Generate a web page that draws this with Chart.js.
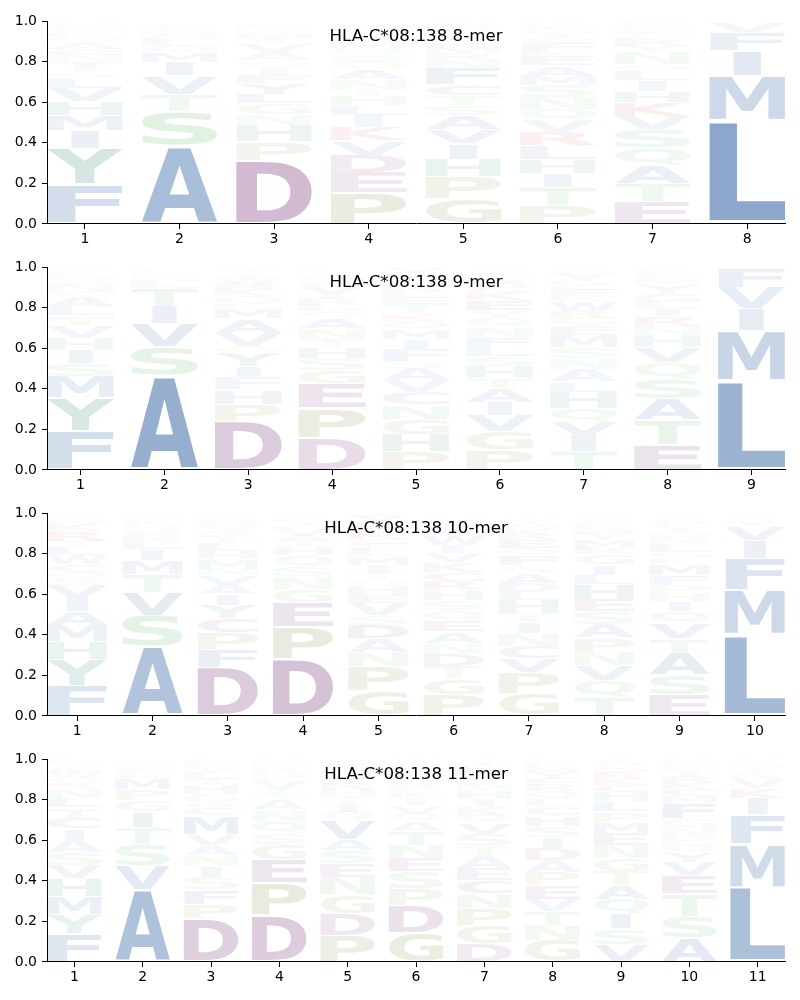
<!doctype html>
<html>

<head>
    <title>HLA-C*08:138</title>
    <script src="https://cdn.jsdelivr.net/npm/chart.js"></script>
    <style>
        body { margin: 0; background: #fff; }
        canvas { position: absolute; left: 0; }
    </style>
</head>

<body>
    <canvas id="logo8" width="800" height="246" style="top: 0px"></canvas>
    <canvas id="logo9" width="800" height="246" style="top: 246px"></canvas>
    <canvas id="logo10" width="800" height="246" style="top: 492px"></canvas>
    <canvas id="logo11" width="800" height="246" style="top: 738px"></canvas>

    <script>
        // each string is one position, bottom letter first, heights in the same order
        var letters8 = ["FYIMHVLSTNCAQRWKPGDE", "ASTVIMQLNGCFYHPR", "DPHNGLYFIQAVTMSKREW", "PEDVKILHTNAGSQMCRFYW",
            "GPHIVASTCFNRMKYLQEDW", "PTIHLRVQNSMAEKFCYGWD", "ETAQSVKHILGNYRMFCPDW", "LMIFV"];
        var heights8 = [
            [.195, .175, .09, .075, .07, .065, .05, .03, .05, .03, .03, .035, .025, .02, .01, .015, .015, .015, .005, .005],
            [.385, .17, .085, .09, .065, .05, .03, .03, .025, .02, .015, .015, .005, .005, .004, .003],
            [.315, .09, .08, .055, .055, .045, .055, .04, .035, .035, .04, .04, .03, .025, .02, .01, .01, .005, .005],
            [.155, .10, .085, .07, .065, .06, .05, .045, .035, .05, .05, .035, .03, .03, .03, .02, .02, .02, .015, .01],
            [.125, .11, .085, .075, .07, .07, .05, .05, .05, .08, .04, .03, .03, .025, .025, .02, .02, .015, .01, .01],
            [.09, .09, .07, .07, .065, .065, .06, .055, .06, .06, .045, .05, .045, .025, .04, .025, .025, .02, .015, .01],
            [.11, .09, .09, .085, .09, .065, .07, .055, .055, .045, .03, .06, .03, .03, .02, .02, .015, .015, .01, .01],
            [.51, .22, .125, .09, .05]
        ];

        var letters9 = ["FYMSIHVTLACNQRKGPE", "ASVITLGNCQM", "DPHFIYGVAMLQKRWSTNE", "DPEGSHTNAQLRIVFMKYCW",
            "PHGNCVASFIMQKTELRDWY", "PGVIATHSLFNQYEKCRMDW", "TIVQHLANSMEGRWKFCDYP", "ETASQVHNRILGYMCFKPD", "LMIVF"];
        var heights9 = [
            [.19, .165, .105, .065, .065, .06, .06, .05, .045, .05, .025, .04, .03, .015, .015, .01, .01, .005],
            [.465, .14, .115, .085, .09, .03, .03, .015, .01, .01, .005],
            [.24, .085, .07, .06, .055, .07, .03, .065, .07, .05, .02, .04, .03, .03, .03, .02, .02, .015, .005],
            [.16, .145, .12, .065, .06, .055, .045, .05, .05, .03, .03, .03, .025, .04, .02, .02, .015, .015, .01, .005],
            [.09, .085, .075, .07, .06, .06, .06, .035, .06, .05, .045, .045, .035, .045, .03, .03, .03, .025, .03, .03],
            [.10, .09, .08, .065, .065, .05, .06, .05, .045, .05, .05, .045, .035, .05, .04, .03, .035, .02, .015, .01],
            [.09, .08, .07, .065, .08, .05, .06, .055, .055, .06, .045, .04, .03, .05, .025, .03, .025, .02, .03, .02],
            [.125, .125, .10, .10, .08, .075, .06, .045, .045, .04, .03, .045, .04, .025, .02, .015, .01, .01, .005],
            [.44, .245, .11, .105, .095]
        ];

        var letters10 = ["FYHMAIVSQCWLTRKNPGED", "ASVTMILEGNKQFCY", "DFPCYIAVNMHLTSQGKWR", "DPEGNSQHTAVLIKRYMF",
            "GPNADSVEHQTIMLFCKRYW", "PGTDNAEQSHRCKVIWLFYM", "GPVCNITHLDASFQERKMYW", "TQVNPASEHLIGRMYDKFWC",
            "ESATVQIHPFMKGLNDYCRW", "LMFIVYTSN"];
        var heights10 = [
            [.15, .13, .085, .08, .07, .065, .065, .035, .03, .035, .045, .04, .03, .05, .03, .025, .015, .01, .005, .005],
            [.34, .155, .115, .09, .065, .055, .04, .03, .025, .025, .02, .015, .01, .005, .005],
            [.24, .09, .08, .07, .065, .055, .045, .05, .03, .045, .04, .04, .035, .03, .03, .02, .015, .015, .01],
            [.28, .16, .12, .065, .06, .05, .055, .04, .025, .03, .03, .02, .02, .015, .01, .01, .005, .005],
            [.125, .12, .07, .065, .065, .05, .06, .04, .045, .035, .03, .04, .04, .03, .03, .025, .04, .04, .03, .02],
            [.105, .08, .06, .06, .055, .055, .055, .05, .05, .05, .045, .045, .045, .045, .04, .05, .025, .02, .02, .015],
            [.11, .105, .07, .06, .06, .055, .045, .065, .04, .045, .05, .035, .05, .035, .04, .03, .025, .025, .015, .01],
            [.09, .085, .075, .065, .07, .065, .065, .06, .075, .045, .05, .05, .03, .04, .03, .025, .02, .015, .01, .01],
            [.105, .10, .105, .07, .075, .06, .05, .04, .04, .05, .055, .025, .03, .04, .035, .025, .025, .02, .015, .01],
            [.40, .22, .155, .09, .07, .025, .015, .01, .005]
        ];

        var letters11 = ["FYMHVSAICTLNRQWKGPED", "AVSTIGPMLCNQFE", "DPFSINAVMCQGHTLYKERW", "DPEGSQNATIVLHRKFMYC",
            "PDGNESAVQITHRKLMFYCW", "GDPSENTAQVIKLRHFMYCW", "DGPNCEATSVQKIHMLFRWY", "GNTVEPADISHCLQRFYMKW",
            "VSIQATGNEMPLHCKRDFWY", "ASTEVYQPNGFMCKRILDWH", "LMFIKVRYTNQS"];
        var heights11 = [
            [.14, .095, .09, .085, .065, .065, .06, .055, .055, .05, .045, .05, .025, .025, .03, .02, .015, .015, .01, .005],
            [.355, .12, .105, .085, .075, .055, .055, .055, .03, .02, .02, .015, .005, .005],
            [.215, .07, .07, .06, .055, .055, .05, .055, .09, .035, .03, .04, .045, .03, .03, .025, .015, .01, .01, .005],
            [.23, .16, .115, .075, .055, .06, .055, .045, .03, .025, .04, .02, .02, .02, .015, .01, .01, .01, .005],
            [.13, .105, .095, .085, .07, .065, .055, .095, .04, .04, .035, .03, .03, .025, .025, .02, .015, .015, .01, .005],
            [.145, .135, .08, .085, .065, .065, .07, .045, .04, .04, .035, .025, .025, .025, .025, .025, .02, .02, .015, .01],
            [.09, .09, .085, .07, .065, .06, .06, .05, .06, .055, .04, .04, .035, .04, .025, .03, .025, .03, .02, .015],
            [.105, .075, .07, .06, .07, .06, .06, .06, .055, .055, .05, .045, .035, .04, .03, .03, .03, .025, .02, .01],
            [.085, .08, .075, .07, .07, .065, .065, .065, .06, .055, .05, .05, .045, .035, .03, .03, .025, .02, .015, .01],
            [.12, .105, .11, .09, .065, .05, .04, .04, .045, .04, .075, .035, .035, .03, .03, .025, .025, .015, .015, .01],
            [.37, .21, .145, .08, .05, .045, .02, .02, .02, .015, .01, .01]
        ];

        var titles = ["HLA-C*08:138 8-mer", "HLA-C*08:138 9-mer", "HLA-C*08:138 10-mer", "HLA-C*08:138 11-mer"];
        var yTicks = [0, 0.2, 0.4, 0.6, 0.8, 1];

        var blue = 'rgb(29,83,153)', purple = 'rgb(107,36,110)', olive = 'rgb(127,133,50)',
            green = 'rgb(77,177,88)', teal = 'rgb(20,114,96)', red = 'rgb(190,20,20)';
        var letterColors = {
            A: blue, V: blue, I: blue, L: blue, M: blue, F: blue, W: blue,
            D: purple, E: purple, C: purple,
            P: olive, G: olive,
            S: green, T: green, N: green, Q: green,
            H: teal, Y: teal,
            K: red, R: red
        };

        // bars stay invisible, each letter gets stretched into its bar rectangle
        var glyphPlugin = {
            id: 'glyphs',
            afterDatasetsDraw(chart) {
                var ctx = chart.ctx;
                var area = chart.chartArea;
                ctx.save();
                ctx.beginPath();
                ctx.rect(area.left, area.top, area.width, area.height);
                ctx.clip();
                ctx.font = 'bold 200px "DejaVu Sans"';
                ctx.textAlign = 'left';
                ctx.textBaseline = 'alphabetic';
                var e = ctx.measureText('E');
                var eWidth = e.actualBoundingBoxLeft + e.actualBoundingBoxRight;
                chart.data.datasets.forEach((dataset, d) => {
                    chart.getDatasetMeta(d).data.forEach((bar, i) => {
                        var p = bar.getProps(['x', 'y', 'base', 'width'], true);
                        var letter = dataset.glyphs[i];
                        var m = ctx.measureText(letter);
                        var glyphWidth = m.actualBoundingBoxLeft + m.actualBoundingBoxRight;
                        // narrow letters (the I) are not stretched more than an E
                        var sx = p.width / Math.max(glyphWidth, eWidth);
                        var full = p.base - p.y;
                        var pad = full * 0.03;
                        ctx.save();
                        ctx.globalAlpha = dataset.data[i].y;
                        ctx.fillStyle = letterColors[letter];
                        ctx.translate(p.x - glyphWidth * sx / 2, p.base - pad);
                        ctx.scale(sx, (full - 2 * pad) / (m.actualBoundingBoxAscent + m.actualBoundingBoxDescent));
                        ctx.fillText(letter, m.actualBoundingBoxLeft, -m.actualBoundingBoxDescent);
                        ctx.restore();
                    });
                });
                ctx.restore();
            }
        };

        function drawLogo(id, title, letters, heights) {
            var positions = heights.map((row, i) => i + 1);
            var datasets = [];
            for (var r = 0; r < 20; r++) {
                var rows = positions.filter((pos, i) => r < heights[i].length);
                datasets.push({
                    stack: 'logo',
                    backgroundColor: 'rgba(0,0,0,0)',
                    barPercentage: 0.8,
                    categoryPercentage: 1,
                    glyphs: rows.map(pos => letters[pos - 1][r]),
                    data: rows.map(pos => ({ x: pos, y: heights[pos - 1][r] }))
                });
            }
            var tickFont = { family: '"DejaVu Sans"', size: 14 };
            return new Chart(document.getElementById(id).getContext('2d'), {
                type: 'bar',
                data: { datasets: datasets },
                plugins: [glyphPlugin],
                options: {
                    responsive: false,
                    animation: false,
                    layout: { padding: { top: 21, right: 15, left: 0, bottom: 0 } },
                    plugins: {
                        legend: { display: false },
                        tooltip: { enabled: false },
                        title: {
                            display: true,
                            text: title,
                            fullSize: false,
                            color: '#000',
                            font: { family: '"DejaVu Sans"', size: 16.67, weight: 'normal', lineHeight: 1.2 },
                            padding: { top: 6, bottom: -26 }
                        }
                    },
                    scales: {
                        x: {
                            type: 'linear',
                            offset: false,
                            stacked: true,
                            min: 0.6,
                            max: positions.length + 0.4,
                            grid: { offset: false, drawOnChartArea: false, tickLength: 5, tickColor: '#000', tickWidth: 1 },
                            border: { color: '#000', width: 1 },
                            afterBuildTicks: s => { s.ticks = positions.map(v => ({ value: v })); },
                            afterFit: s => { s.height = 22; },
                            ticks: { color: '#000', font: tickFont, padding: 2, maxRotation: 0, autoSkip: false, callback: v => String(v) }
                        },
                        y: {
                            stacked: true,
                            min: 0,
                            max: 1,
                            grid: { drawOnChartArea: false, tickLength: 5, tickColor: '#000', tickWidth: 1 },
                            border: { color: '#000', width: 1 },
                            afterBuildTicks: s => { s.ticks = yTicks.map(v => ({ value: v })); },
                            afterFit: s => { s.width = 47; },
                            ticks: { color: '#000', font: tickFont, padding: 5, callback: v => v.toFixed(1) }
                        }
                    }
                }
            });
        }

        drawLogo('logo8', titles[0], letters8, heights8);
        drawLogo('logo9', titles[1], letters9, heights9);
        drawLogo('logo10', titles[2], letters10, heights10);
        drawLogo('logo11', titles[3], letters11, heights11);
    </script>
</body>

</html>
